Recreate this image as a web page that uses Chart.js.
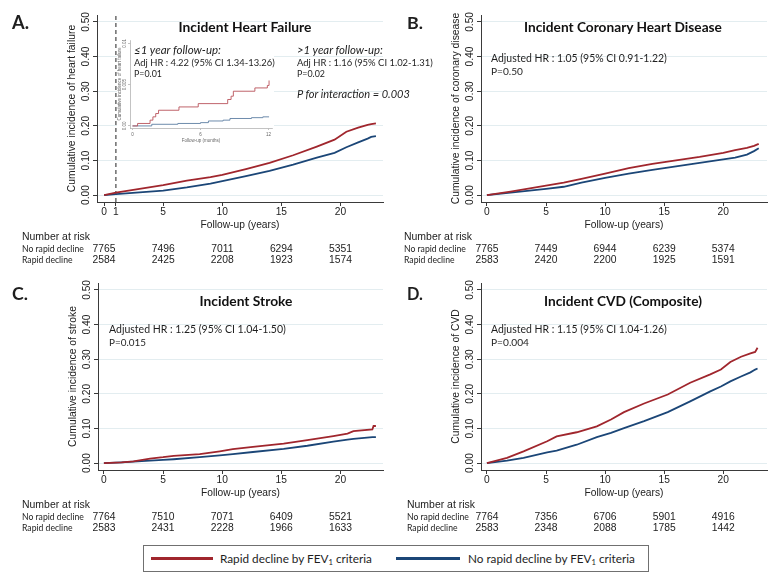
<!DOCTYPE html>
<html>
<head>
<meta charset="utf-8">
<script src="https://cdn.jsdelivr.net/npm/chart.js@4.4.1/dist/chart.umd.min.js"></script>
<style>
body { margin: 0; background: #fff; }
#fig { position: relative; width: 771px; height: 576px; overflow: hidden; color: #1e1e1e; font-family: Lato, sans-serif; }
#fig canvas { position: absolute; }
.lbl { position: absolute; white-space: nowrap; line-height: 1; transform: translateY(-50%); }
.ctr { transform: translate(-50%, -50%); }
.letter { font: 700 17px Lato, sans-serif; }
.title { font: 700 13.5px Lato, sans-serif; color: #111; }
.note { font: 10.5px Lato, sans-serif; }
.note.it { font-style: italic; }
.leg { font: 12px Lato, sans-serif; }
.sub { font-size: 0.65em; position: relative; top: 0.25em; }
.legend-box { position: absolute; border: 1px solid #707070; }
.swatch { position: absolute; height: 3px; }
</style>
</head>
<body>
<div id="fig">
  <canvas id="panelA" width="390" height="270" style="left:0;top:0"></canvas>
  <canvas id="panelB" width="381" height="270" style="left:390px;top:0"></canvas>
  <canvas id="panelC" width="390" height="270" style="left:0;top:270px"></canvas>
  <canvas id="panelD" width="381" height="270" style="left:390px;top:270px"></canvas>
  <canvas id="inset" width="157" height="110" style="left:117px;top:36px"></canvas>

  <div class="lbl letter fit" data-w="17" style="left:12px;top:22px">A.</div>
  <div class="lbl letter fit" data-w="16" style="left:407px;top:22px">B.</div>
  <div class="lbl letter fit" data-w="16" style="left:12px;top:293px">C.</div>
  <div class="lbl letter fit" data-w="16" style="left:407px;top:293px">D.</div>

  <div class="lbl title ctr fit" data-w="133" style="left:245px;top:26px">Incident Heart Failure</div>
  <div class="lbl title ctr fit" data-w="198" style="left:623px;top:26px">Incident Coronary Heart Disease</div>
  <div class="lbl title ctr fit" data-w="93" style="left:246px;top:300px">Incident Stroke</div>
  <div class="lbl title ctr fit" data-w="158" style="left:623px;top:300px">Incident CVD (Composite)</div>

  <div class="lbl note it fit" data-w="87" style="left:134px;top:49px">≤1 year follow-up:</div>
  <div class="lbl note fit" data-w="141" style="left:134px;top:62px">Adj HR : 4.22 (95% CI 1.34-13.26)</div>
  <div class="lbl note fit" data-w="28" style="left:134px;top:73px">P=0.01</div>
  <div class="lbl note it fit" data-w="86" style="left:297px;top:49px">&gt;1 year follow-up:</div>
  <div class="lbl note fit" data-w="136" style="left:297px;top:62px">Adj HR : 1.16 (95% CI 1.02-1.31)</div>
  <div class="lbl note fit" data-w="28" style="left:297px;top:73px">P=0.02</div>
  <div class="lbl note it fit" data-w="113" style="left:297px;top:93px">P for interaction = 0.003</div>

  <div class="lbl note fit" data-w="176" style="left:491px;top:58px">Adjusted HR : 1.05 (95% CI 0.91-1.22)</div>
  <div class="lbl note fit" data-w="32" style="left:491px;top:71px">P=0.50</div>
  <div class="lbl note fit" data-w="177" style="left:109px;top:329px">Adjusted HR : 1.25 (95% CI 1.04-1.50)</div>
  <div class="lbl note fit" data-w="37" style="left:109px;top:342px">P=0.015</div>
  <div class="lbl note fit" data-w="176" style="left:491px;top:329px">Adjusted HR : 1.15 (95% CI 1.04-1.26)</div>
  <div class="lbl note fit" data-w="38" style="left:491px;top:342px">P=0.004</div>

  <div class="legend-box" style="left:143px;top:545px;width:504px;height:25px"></div>
  <div class="swatch" style="left:151px;top:557px;width:62px;background:#a0262d"></div>
  <div class="lbl leg fit" data-w="152" style="left:220px;top:558px">Rapid decline by FEV<span class="sub">1</span> criteria</div>
  <div class="swatch" style="left:396px;top:557px;width:64px;background:#1b4677"></div>
  <div class="lbl leg fit" data-w="167" style="left:468px;top:558px">No rapid decline by FEV<span class="sub">1</span> criteria</div>
</div>

<script>
// ---- data ----
const hfYearTicks = [0, 1, 5, 10, 15, 20];
const yearTicks = [0, 5, 10, 15, 20];
const incidenceTicks = [0, 0.1, 0.2, 0.3, 0.4, 0.5];
const riskTimes = [0, 5, 10, 15, 20];

// A. heart failure
const hfYears   = [0, 1, 3, 5, 7, 9, 10, 12, 14, 16, 18, 19.5, 20.5, 21.5, 22.3, 22.6, 23];
const hfRapid   = [0, .007, .018, .029, .042, .052, .058, .075, .093, .115, .14, .16, .183, .195, .203, .205, .207];
const hfNoRapid = [0, .003, .008, .013, .022, .033, .04, .055, .07, .088, .108, .122, .138, .152, .163, .168, .17];
const hfRiskNoRapid = [7765, 7496, 7011, 6294, 5351];
const hfRiskRapid   = [2584, 2425, 2208, 1923, 1574];

// A inset, first 12 months
const insetMonthTicks = [0, 6, 12];
const insetIncidenceTicks = [0, 0.005, 0.01];
const insetIncidenceLabels = ["0.00", "0.005", "0.01"];
const insetRapidMonths = [0, 0.45, 1.55, 1.8, 2.05, 2.3, 4.1, 5.8, 8.4, 8.7, 8.9, 10.8, 11.9, 12.05];
const insetRapid       = [0, .0003, .0007, .0011, .0015, .0019, .0023, .0027, .0032, .0036, .0042, .0046, .0049, .0055];
const insetNoRapidMonths = [0, 1.7, 4, 6, 6.7, 8, 8.6, 10.5, 11.5, 12.05];
const insetNoRapid       = [0, .0002, .0003, .0004, .0006, .0007, .0009, .001, .0011, .0011];

// B. coronary heart disease
const chdYears   = [0, 2, 5, 6.5, 8, 10, 12, 14, 16, 18, 20, 21, 22, 22.6, 23];
const chdRapid   = [0, .01, .027, .036, .047, .062, .078, .09, .1, .11, .122, .13, .136, .142, .148];
const chdNoRapid = [0, .007, .018, .024, .036, .05, .062, .073, .083, .093, .103, .108, .117, .127, .135];
const chdRiskNoRapid = [7765, 7449, 6944, 6239, 5374];
const chdRiskRapid   = [2583, 2420, 2200, 1925, 1591];

// C. stroke
const strokeYears   = [0, 1.5, 2.5, 3.9, 5, 5.9, 8.1, 9.8, 10.9, 12.6, 15.2, 17.2, 19.4, 20.6, 21.1, 22.7, 22.8, 23];
const strokeRapid   = [0, .002, .005, .013, .017, .021, .026, .034, .04, .047, .056, .066, .078, .085, .092, .097, .107, .107];
const strokeNoRapid = [0, .002, .004, .007, .009, .011, .017, .022, .026, .032, .041, .05, .062, .068, .07, .075, .075, .075];
const strokeRiskNoRapid = [7764, 7510, 7071, 6409, 5521];
const strokeRiskRapid   = [2583, 2431, 2228, 1966, 1633];

// D. CVD composite
const cvdYears   = [0, 1.7, 3.1, 5.1, 5.9, 7.6, 9.3, 10.5, 11.6, 13.3, 15.3, 17.2, 18.9, 19.8, 20.6, 21.5, 22.3, 22.7, 22.9];
const cvdRapid   = [0, .015, .034, .063, .077, .089, .106, .126, .147, .172, .198, .232, .256, .27, .292, .307, .317, .321, .333];
const cvdNoRapid = [0, .007, .015, .031, .036, .053, .075, .087, .101, .121, .147, .178, .207, .221, .236, .25, .262, .27, .273];
const cvdRiskNoRapid = [7764, 7356, 6706, 5901, 4916];
const cvdRiskRapid   = [2583, 2348, 2088, 1785, 1442];

const colors = {
    rapid: "#a0262d",
    noRapid: "#1b4677",
    grid: "#e3edf0",
    axis: "#3a3a3a",
    text: "#222222",
    insetRapid: "#b9525a",
    insetNoRapid: "#5e7fa3",
    insetAxis: "#9a9a9a",
};
const stataFont = "'Liberation Sans', Arial, sans-serif";
const labelFont = "Lato, sans-serif";

// shrink / grow the html labels to the widths they have in the figure
document.querySelectorAll("#fig .fit").forEach(el => {
    const size = parseFloat(getComputedStyle(el).fontSize);
    const w = el.getBoundingClientRect().width;
    if (w > 0) el.style.fontSize = (size * Number(el.dataset.w) / w).toFixed(2) + "px";
});

// same idea for canvas text: font size that gives a text its width in the figure
const measureCtx = document.createElement("canvas").getContext("2d");
function fitSize(text, family, target) {
    measureCtx.font = "10px " + family;
    return +(10 * target / measureCtx.measureText(text).width).toFixed(2);
}
const axisSize = fitSize("Follow-up (years)", stataFont, 79);
const yTitleSize = fitSize("Cumulative incidence of stroke", stataFont, 141);
const riskHeadSize = fitSize("Number at risk", stataFont, 68);
const rowLabelSize = fitSize("No rapid decline", labelFont, 62);
const riskNumSize = fitSize("7765", stataFont, 23);

// number-at-risk table under each panel, lined up with the x scale
const riskTable = {
    id: "riskTable",
    afterDraw(chart, args, opts) {
	const { ctx, chartArea, scales } = chart;
	const x = scales.x;
	const b = chartArea.bottom;
	ctx.save();
	ctx.fillStyle = colors.text;
	ctx.textBaseline = "middle";
	ctx.textAlign = "left";
	ctx.font = riskHeadSize + "px " + stataFont;
	ctx.fillText("Number at risk", opts.labelX, b + 35);
	ctx.font = rowLabelSize + "px " + labelFont;
	ctx.fillText("No rapid decline", opts.labelX, b + 47);
	ctx.fillText("Rapid decline", opts.labelX, b + 58.5);
	ctx.font = riskNumSize + "px " + stataFont;
	ctx.textAlign = "center";
	riskTimes.forEach((t, i) => {
	    const px = x.getPixelForValue(t);
	    ctx.fillText(String(opts.noRapid[i]), px, b + 47);
	    ctx.fillText(String(opts.rapid[i]), px, b + 58.5);
	});
	ctx.restore();
    }
};

const whiteBackground = {
    id: "whiteBackground",
    beforeDraw(chart) {
	const ctx = chart.ctx;
	ctx.save();
	ctx.fillStyle = "#fff";
	ctx.fillRect(0, 0, chart.width, chart.height);
	ctx.restore();
    }
};

function toPoints(xs, ys) {
    return xs.map((t, i) => ({ x: t, y: ys[i] }));
}

function makePanel(canvasId, cfg) {
    const datasets = [
	{ data: toPoints(cfg.years, cfg.rapid), borderColor: colors.rapid, borderWidth: 1.8 },
	{ data: toPoints(cfg.years, cfg.noRapid), borderColor: colors.noRapid, borderWidth: 1.8 },
    ];
    if (cfg.marker !== undefined) {
	datasets.push({
	    data: [{ x: cfg.marker, y: -0.02 }, { x: cfg.marker, y: 0.52 }],
	    borderColor: "#222", borderWidth: 1, borderDash: [4, 3],
	});
    }

    return new Chart(document.getElementById(canvasId), {
	type: "line",
	data: { datasets: datasets },
	options: {
	    responsive: false,
	    animation: false,
	    layout: { padding: cfg.padding },
	    elements: { point: { radius: 0 }, line: { tension: 0, fill: false } },
	    plugins: {
		legend: { display: false },
		tooltip: { enabled: false },
		riskTable: { labelX: cfg.labelX, noRapid: cfg.riskNoRapid, rapid: cfg.riskRapid },
	    },
	    scales: {
		x: {
		    type: "linear",
		    min: cfg.xMin, max: cfg.xMax,
		    afterBuildTicks: s => { s.ticks = cfg.xTicks.map(v => ({ value: v })); },
		    afterFit: s => { s.height = 29; },
		    grid: { drawOnChartArea: false, tickLength: 4, tickColor: colors.axis },
		    border: { color: colors.axis, width: 1 },
		    ticks: { padding: 0, autoSkip: false, maxRotation: 0, color: colors.text,
			     font: { family: stataFont, size: axisSize }, callback: v => String(v) },
		    title: { display: true, text: "Follow-up (years)", color: colors.text,
			     font: { family: stataFont, size: axisSize }, padding: { top: 0, bottom: 0 } },
		},
		y: {
		    type: "linear",
		    min: -0.02, max: 0.52,
		    afterBuildTicks: s => { s.ticks = incidenceTicks.map(v => ({ value: v })); },
		    afterFit: s => { s.width = 31; },
		    grid: { color: colors.grid, lineWidth: 1, tickLength: 4, tickColor: colors.axis },
		    border: { color: colors.axis, width: 1 },
		    ticks: { minRotation: 90, maxRotation: 90, crossAlign: "center", padding: -3,
			     color: colors.text, font: { family: stataFont, size: axisSize },
			     callback: v => v.toFixed(2) },
		    title: { display: true, text: cfg.yTitle, color: colors.text,
			     font: { family: stataFont, size: yTitleSize }, padding: { top: 0, bottom: 0 } },
		},
	    },
	},
	plugins: [riskTable],
    });
}

makePanel("panelA", {
    years: hfYears, rapid: hfRapid, noRapid: hfNoRapid, marker: 1,
    xTicks: hfYearTicks, xMin: -0.6, xMax: 23.6,
    yTitle: "Cumulative incidence of heart failure",
    padding: { left: 66, right: 7, top: 15, bottom: 39 },
    labelX: 22, riskNoRapid: hfRiskNoRapid, riskRapid: hfRiskRapid,
});

makePanel("panelB", {
    years: chdYears, rapid: chdRapid, noRapid: chdNoRapid,
    xTicks: yearTicks, xMin: -0.5, xMax: 23.7,
    yTitle: "Cumulative incidence of coronary disease",
    padding: { left: 60, right: 4, top: 15, bottom: 39 },
    labelX: 14, riskNoRapid: chdRiskNoRapid, riskRapid: chdRiskRapid,
});

makePanel("panelC", {
    years: strokeYears, rapid: strokeRapid, noRapid: strokeNoRapid,
    xTicks: yearTicks, xMin: -0.5, xMax: 23.6,
    yTitle: "Cumulative incidence of stroke",
    padding: { left: 67, right: 7, top: 13, bottom: 41 },
    labelX: 22, riskNoRapid: strokeRiskNoRapid, riskRapid: strokeRiskRapid,
});

makePanel("panelD", {
    years: cvdYears, rapid: cvdRapid, noRapid: cvdNoRapid,
    xTicks: yearTicks, xMin: -0.5, xMax: 23.7,
    yTitle: "Cumulative incidence of CVD",
    padding: { left: 60, right: 4, top: 13, bottom: 41 },
    labelX: 17, riskNoRapid: cvdRiskNoRapid, riskRapid: cvdRiskRapid,
});

// inset: first year of follow-up for heart failure
new Chart(document.getElementById("inset"), {
    type: "line",
    data: {
	datasets: [
	    { data: toPoints(insetRapidMonths, insetRapid), stepped: true, borderColor: colors.insetRapid, borderWidth: 0.9 },
	    { data: toPoints(insetNoRapidMonths, insetNoRapid), stepped: true, borderColor: colors.insetNoRapid, borderWidth: 0.9 },
	]
    },
    options: {
	responsive: false,
	animation: false,
	layout: { padding: { left: 0, right: 2, top: 4, bottom: 0 } },
	elements: { point: { radius: 0 }, line: { fill: false } },
	plugins: { legend: { display: false }, tooltip: { enabled: false } },
	scales: {
	    x: {
		type: "linear", min: -0.22, max: 12.31,
		afterBuildTicks: s => { s.ticks = insetMonthTicks.map(v => ({ value: v })); },
		afterFit: s => { s.height = 18; },
		grid: { drawOnChartArea: false, tickLength: 2, tickColor: colors.insetAxis, lineWidth: 0.6 },
		border: { color: colors.insetAxis, width: 0.6 },
		ticks: { padding: 2.3, autoSkip: false, maxRotation: 0, color: "#666",
			 font: { family: stataFont, size: 4.5 }, callback: v => String(v) },
		title: { display: true, text: "Follow-up (months)", color: "#666",
			 font: { family: stataFont, size: 4.5 }, padding: { top: 0, bottom: 2.3 } },
	    },
	    y: {
		type: "linear", min: -0.00025, max: 0.0104,
		afterBuildTicks: s => { s.ticks = insetIncidenceTicks.map(v => ({ value: v })); },
		afterFit: s => { s.width = 13; },
		grid: { drawOnChartArea: false, tickLength: 2, tickColor: colors.insetAxis, lineWidth: 0.6 },
		border: { color: colors.insetAxis, width: 0.6 },
		ticks: { minRotation: 90, maxRotation: 90, crossAlign: "center", padding: -2.6,
			 color: "#666", font: { family: stataFont, size: 4.5 },
			 callback: (v, i) => insetIncidenceLabels[i] },
		title: { display: true, text: "Cumulative incidence of heart failure", color: "#666",
			 font: { family: stataFont, size: 4.5 }, padding: { top: 0, bottom: 0 } },
	    },
	},
    },
    plugins: [whiteBackground],
});
</script>
</body>
</html>
